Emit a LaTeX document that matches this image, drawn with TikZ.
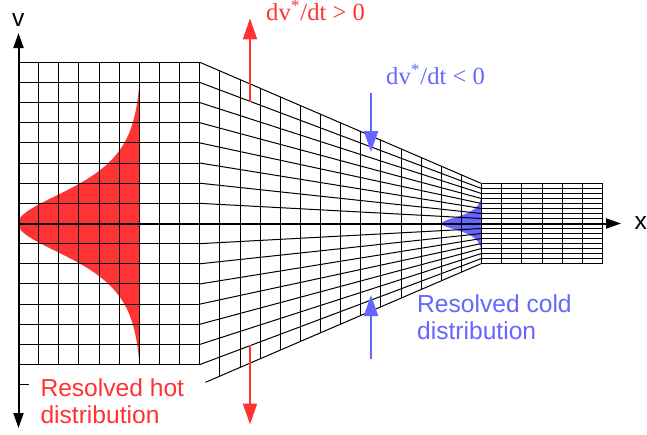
\documentclass[tikz,border=0pt]{standalone}
\usepackage{fontspec}
\setmainfont{Liberation Serif}
\setsansfont{Liberation Sans}
\usetikzlibrary{arrows.meta}
\definecolor{hotred}{RGB}{255,51,51}
\definecolor{coldblue}{RGB}{102,102,255}

\begin{document}
\begin{tikzpicture}[x=0.5pt,y=-0.5pt,line width=0.5pt,
  axis/.style={line width=1pt,-{Triangle[length=7.5pt,width=5pt]}},
  rate/.style={line width=1pt,-{Triangle[length=10.5pt,width=7pt]}},
  lbl/.style={font=\sffamily\fontsize{12.3}{13.4}\selectfont,align=left,anchor=north west,inner sep=0pt},
  eqn/.style={font=\fontsize{12.3}{14}\selectfont,anchor=base west,inner sep=0pt}]
  \useasboundingbox (0,0) rectangle (647,434);

  \coordinate (O) at (18.5,223.5);
  \coordinate (VT) at (18.5,33);
  \coordinate (VB) at (18.5,428);
  \coordinate (XT) at (621,223.5);

  \fill[hotred] plot[domain=-136:136,samples=121,variable=\t]
    ({139-121*(1/cosh(\t/30.5)-0.0231)/0.9769},{223.5+\t}) -- cycle;
  \fill[coldblue] plot[domain=-28:28,samples=61,variable=\t]
    ({481.5-40*(1/cosh(\t/6.3)-0.0236)/0.9764},{223.5+\t}) -- cycle;

  \foreach \i in {0,...,9}
    \draw (18.5+20.15*\i,62.3) -- (18.5+20.15*\i,364.65);
  \foreach \j in {0,...,15}
    \draw (18.5,62.3+20.15*\j) -- (199.85,62.3+20.15*\j);

  \foreach \i in {1,...,14}
    \draw ({199.85+20.118*\i},{62.3+8.657*\i}) -- ({199.85+20.118*\i},{384.7-8.657*\i});
  \foreach \k in {0,...,15}
    \draw (199.85,{62.3+20.15*\k}) -- (481.5,{183.5+5*\k});
  \draw (205.5,382.3) -- (481.5,263.5);

  \foreach \i in {0,...,6}
    \draw (481.5+20.2*\i,183.5) -- (481.5+20.2*\i,263.5);
  \foreach \k in {0,...,16}
    \draw (481.5,183.5+5*\k) -- (602.7,183.5+5*\k);

  \draw[axis] (O) -- (XT);
  \draw[axis,{Triangle[length=7.5pt,width=5pt]}-{Triangle[length=7.5pt,width=5pt]}] (VB) -- (VT);
  \draw (18.5,384.7) -- (28.7,384.7);

  \coordinate (R1) at (250,101.7);
  \coordinate (R2) at (250,18.3);
  \coordinate (R3) at (250,345);
  \coordinate (R4) at (250,424.5);
  \coordinate (B1) at (371,93.3);
  \coordinate (B2) at (371,152);
  \coordinate (B3) at (371,359);
  \coordinate (B4) at (371,295);
  \draw[rate,hotred] (R1) -- (R2);
  \draw[rate,hotred] (R3) -- (R4);
  \draw[rate,coldblue] (B1) -- (B2);
  \draw[rate,coldblue] (B3) -- (B4);

  \node[eqn,text=hotred] (dvpos) at (265.7,20) {dv\textsuperscript{*}/dt > 0};
  \node[eqn,text=coldblue] (dvneg) at (385.7,84) {dv\textsuperscript{*}/dt < 0};
  \node[lbl,text=hotred] (hotlbl) at (40,378.5) {Resolved hot\\distribution};
  \node[lbl,text=coldblue] (coldlbl) at (416.7,294.5) {Resolved cold\\distribution};
  \node[font=\sffamily\fontsize{12.3}{14}\selectfont,anchor=base,inner sep=0pt] (vlbl) at (18.3,26.7) {v};
  \node[font=\sffamily\fontsize{12.3}{14}\selectfont,anchor=base west,inner sep=0pt] (xlbl) at (634,229) {x};
\end{tikzpicture}
\end{document}
